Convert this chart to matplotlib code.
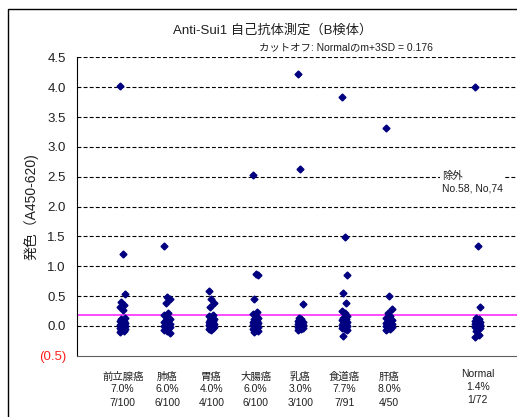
import numpy as np
import matplotlib
matplotlib.use("Agg")
import matplotlib.pyplot as plt
from matplotlib.patches import Rectangle
from matplotlib.transforms import blended_transform_factory

plt.rcParams["font.family"] = ["Liberation Sans", "Noto Sans CJK JP"]

# --- data ---------------------------------------------------------------
categories = ["前立腺癌", "肺癌", "胃癌", "大腸癌", "乳癌", "食道癌", "肝癌", "Normal"]
positions = [1, 2, 3, 4, 5, 6, 7, 9]
n_positive = [7, 6, 4, 6, 3, 7, 4, 1]
n_total = [100, 100, 100, 100, 100, 91, 50, 72]

prostate = [4.02, 1.20, 0.53, 0.40, 0.35, 0.31, 0.27, 0.13, 0.11, 0.09, 0.08, 0.06, 0.05,
            0.04, 0.03, 0.02, 0.01, 0.00, -0.01, -0.02, -0.03, -0.04, -0.05, -0.06, -0.08, -0.10]
lung = [1.34, 0.49, 0.45, 0.39, 0.21, 0.18, 0.15, 0.12, 0.10, 0.08, 0.06, 0.05, 0.03, 0.02,
        0.01, 0.00, -0.01, -0.02, -0.04, -0.05, -0.07, -0.09, -0.11]
stomach = [0.59, 0.46, 0.39, 0.31, 0.18, 0.16, 0.14, 0.12, 0.10, 0.08, 0.07, 0.05, 0.04,
           0.03, 0.02, 0.01, 0.00, -0.01, -0.02, -0.03, -0.05, -0.06]
colon = [2.53, 0.87, 0.85, 0.46, 0.24, 0.20, 0.16, 0.13, 0.11, 0.09, 0.07, 0.06, 0.05, 0.03,
         0.02, 0.01, 0.00, -0.01, -0.02, -0.04, -0.05, -0.07, -0.08, -0.10]
breast = [4.23, 2.63, 0.36, 0.13, 0.11, 0.09, 0.08, 0.07, 0.06, 0.05, 0.04, 0.03, 0.02,
          0.01, 0.00, -0.01, -0.02, -0.03, -0.04, -0.05, -0.07]
esophagus = [3.83, 1.49, 0.86, 0.56, 0.39, 0.25, 0.21, 0.16, 0.14, 0.12, 0.10, 0.08, 0.06,
             0.05, 0.03, 0.02, 0.01, 0.00, -0.01, -0.03, -0.04, -0.05, -0.07, -0.16]
liver = [3.32, 0.50, 0.28, 0.21, 0.16, 0.14, 0.12, 0.10, 0.08, 0.07, 0.05, 0.04, 0.03, 0.02,
         0.01, 0.00, -0.01, -0.02, -0.04, -0.05, -0.07]
normal = [4.00, 1.34, 0.31, 0.13, 0.11, 0.09, 0.07, 0.06, 0.05, 0.04, 0.03, 0.02, 0.01,
          0.00, -0.01, -0.02, -0.03, -0.04, -0.09, -0.15, -0.18]

groups = [prostate, lung, stomach, colon, breast, esophagus, liver, normal]
cutoff = 0.176
y_ticks = [-0.5, 0.0, 0.5, 1.0, 1.5, 2.0, 2.5, 3.0, 3.5, 4.0, 4.5]

# --- figure -------------------------------------------------------------
W, H = 517, 417
fig = plt.figure(figsize=(W / 100, H / 100), dpi=100)

# frame round the whole chart (runs off the right and bottom edges)
fig.patches.append(Rectangle((7.5 / W, -0.1), 1.2, 1 - 9 / H + 0.1,
                             transform=fig.transFigure, fill=False,
                             edgecolor="black", lw=1.0))

ax = fig.add_axes([77 / W, 61.2 / H, 445 / W, 298.4 / H])
ax.set_xlim(-0.03, 10)
ax.set_ylim(-0.5, 4.5)

for y in y_ticks[1:]:
    ax.axhline(y, color="black", lw=0.8, ls=(0, (3.5, 2)), zorder=1)
ax.axhline(cutoff, color="#ff3cff", lw=1.3, zorder=2)

# small horizontal spread so the clusters read as blobs
spread = [-0.06, 0.0, 0.06, -0.03, 0.03]
for pos, vals in zip(positions, groups):
    xs = [pos + spread[i % len(spread)] for i in range(len(vals))]
    ax.plot(xs, vals, ls="none", marker="D", ms=3.5, color="#000080",
            mec="#000080", zorder=3, clip_on=False)

for side in ("top", "right"):
    ax.spines[side].set_visible(False)
ax.spines["left"].set_color("black")
ax.spines["bottom"].set_color("#606060")

ax.set_xticks([])
ax.set_yticks(y_ticks)
ax.set_yticklabels(["(0.5)" if v < 0 else f"{v:.1f}" for v in y_ticks], fontsize=9.5,
                   color="#202020")
ax.get_yticklabels()[0].set_color("#ff2020")
ax.tick_params(axis="y", length=0, pad=8)

ax.set_ylabel("発色（A450-620)", fontsize=10, color="#202020")
ax.yaxis.set_label_coords(-38 / 445, 0.5)

# category captions under the axis
trans = blended_transform_factory(ax.transData, fig.transFigure)
for pos, name, k, n in zip(positions, categories, n_positive, n_total):
    lift = 3 if name == "Normal" else 0
    rows = [name, f"{100 * k / n:.1f}%", f"{k}/{n}"]
    for row, ypix in zip(rows, (377, 389.5, 403)):
        ax.text(pos, 1 - (ypix - lift) / H, row, transform=trans,
                ha="center", va="center", fontsize=7.5, color="#202020")

ax.text(8.19, 2.60, "除外\nNo.58, No,74", ha="left", va="top", fontsize=7.5,
        color="#202020", linespacing=1.3, zorder=4,
        bbox=dict(boxstyle="square,pad=0.15", fc="white", ec="none"))

fig.text(273 / W, 1 - 30 / H, "Anti-Sui1 自己抗体測定（B検体）", ha="center",
         va="center", fontsize=9.5, color="#202020")
fig.text(433 / W, 1 - 47 / H, "カットオフ: Normalのm+3SD = 0.176", ha="right",
         va="center", fontsize=7.5, color="#202020")

fig.savefig("out.png", dpi=100)
